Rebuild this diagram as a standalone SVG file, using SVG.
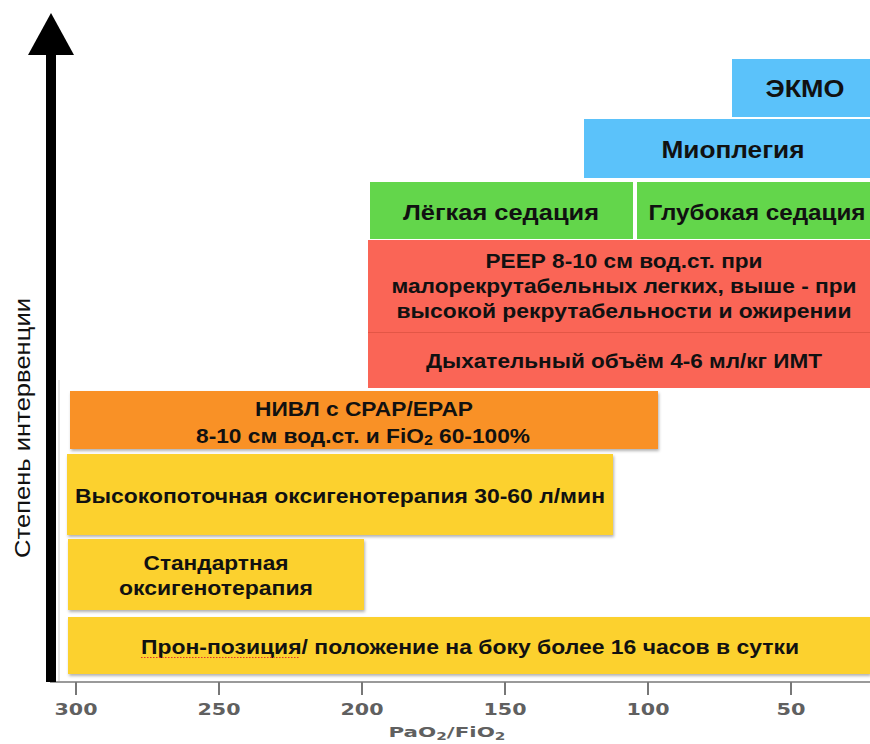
<svg xmlns="http://www.w3.org/2000/svg" width="870" height="744" viewBox="0 0 870 744">
<defs>
<style>
.t{font-family:"Liberation Sans",Arial,sans-serif;font-weight:bold;fill:#111;text-anchor:middle}
.blue{fill:#5BC2FA}
.green{fill:#63D64B}
.red{fill:#FA6556}
.orange{fill:#F99128}
.yellow{fill:#FCD12E}
.tick{stroke:#777;stroke-width:2}
.tl{font-family:"DejaVu Sans",Verdana,sans-serif;font-weight:bold;fill:#606060;font-size:16px;text-anchor:middle}
</style>
<filter id="sh" x="-5%" y="-10%" width="110%" height="130%">
<feDropShadow dx="1" dy="2" stdDeviation="1.5" flood-color="#000" flood-opacity="0.3"/>
</filter>
</defs>
<rect width="870" height="744" fill="#fff"/>

<g id="connectors">
<line x1="59" y1="380" x2="59" y2="682" stroke="#ddd" stroke-width="1.5"/>
<line x1="50" y1="682" x2="870" y2="682" stroke="#9a9a9a" stroke-width="2"/>
<line class="tick" x1="76" y1="682" x2="76" y2="695"/>
<line class="tick" x1="219" y1="682" x2="219" y2="695"/>
<line class="tick" x1="362" y1="682" x2="362" y2="695"/>
<line class="tick" x1="505" y1="682" x2="505" y2="695"/>
<line class="tick" x1="648" y1="682" x2="648" y2="695"/>
<line class="tick" x1="791" y1="682" x2="791" y2="695"/>
<rect x="46" y="50" width="10" height="632" fill="#000"/>
<polygon points="51,13 28,55 74,55" fill="#000"/>
</g>

<g id="axis-labels">
<text class="tl" x="76" y="715" textLength="43" lengthAdjust="spacingAndGlyphs">300</text>
<text class="tl" x="219" y="715" textLength="43" lengthAdjust="spacingAndGlyphs">250</text>
<text class="tl" x="362" y="715" textLength="43" lengthAdjust="spacingAndGlyphs">200</text>
<text class="tl" x="505" y="715" textLength="43" lengthAdjust="spacingAndGlyphs">150</text>
<text class="tl" x="648" y="715" textLength="43" lengthAdjust="spacingAndGlyphs">100</text>
<text class="tl" x="791" y="715" textLength="29" lengthAdjust="spacingAndGlyphs">50</text>
<text class="tl" x="447" y="737" style="font-size:14px" textLength="117" lengthAdjust="spacingAndGlyphs">PaO<tspan font-size="10" dy="3">2</tspan><tspan dy="-3">/FiO</tspan><tspan font-size="10" dy="3">2</tspan></text>
<text transform="translate(30,428) rotate(-90)" style="font-family:'Liberation Sans',Arial,sans-serif;font-size:22px;fill:#111;text-anchor:middle" textLength="260" lengthAdjust="spacingAndGlyphs">Степень интервенции</text>
</g>

<g id="ecmo">
<rect class="blue" x="732" y="59" width="138" height="58"/>
<text class="t" x="805" y="97" font-size="23" textLength="79" lengthAdjust="spacingAndGlyphs">ЭКМО</text>
</g>

<g id="myoplegia">
<rect class="blue" x="584" y="119" width="286" height="59"/>
<text class="t" x="733" y="158" font-size="23" textLength="143" lengthAdjust="spacingAndGlyphs">Миоплегия</text>
</g>

<g id="light-sedation">
<rect class="green" x="370" y="182" width="263" height="57"/>
<text class="t" x="501" y="220" font-size="22" textLength="196" lengthAdjust="spacingAndGlyphs">Лёгкая седация</text>
</g>

<g id="deep-sedation">
<rect class="green" x="637" y="182" width="233" height="57"/>
<text class="t" x="757" y="220" font-size="22" textLength="217" lengthAdjust="spacingAndGlyphs">Глубокая седация</text>
</g>

<g id="peep">
<rect class="red" x="368" y="240" width="502" height="92"/>
<text class="t" x="624" y="268" font-size="21" textLength="277" lengthAdjust="spacingAndGlyphs">РЕЕР 8-10 см вод.ст. при</text>
<text class="t" x="624" y="293" font-size="21" textLength="465" lengthAdjust="spacingAndGlyphs">малорекрутабельных легких, выше - при</text>
<text class="t" x="624" y="318" font-size="21" textLength="455" lengthAdjust="spacingAndGlyphs">высокой рекрутабельности и ожирении</text>
</g>

<g id="tidal-volume">
<rect class="red" x="368" y="332" width="502" height="56"/>
<line x1="368" y1="332.5" x2="870" y2="332.5" stroke="#E35646" stroke-width="1"/>
<text class="t" x="624" y="368" font-size="21" textLength="396" lengthAdjust="spacingAndGlyphs">Дыхательный объём 4-6 мл/кг ИМТ</text>
</g>

<g id="niv">
<rect class="orange" x="70" y="391" width="588" height="58" filter="url(#sh)"/>
<text class="t" x="364" y="416" font-size="20" textLength="218" lengthAdjust="spacingAndGlyphs">НИВЛ с CPAP/EPAP</text>
<text class="t" x="363" y="443" font-size="20" textLength="334" lengthAdjust="spacingAndGlyphs">8-10 см вод.ст. и FiO<tspan font-size="14" dy="2">2</tspan><tspan dy="-2"> 60-100%</tspan></text>
</g>

<g id="hfno">
<rect class="yellow" x="67" y="454" width="546" height="81" filter="url(#sh)"/>
<text class="t" x="340" y="503" font-size="21" textLength="530" lengthAdjust="spacingAndGlyphs">Высокопоточная оксигенотерапия 30-60 л/мин</text>
</g>

<g id="standard-o2">
<rect class="yellow" x="68" y="539" width="296" height="71" filter="url(#sh)"/>
<text class="t" x="216" y="570" font-size="20" textLength="145" lengthAdjust="spacingAndGlyphs">Стандартная</text>
<text class="t" x="216" y="595" font-size="20" textLength="194" lengthAdjust="spacingAndGlyphs">оксигенотерапия</text>
</g>

<g id="prone">
<rect class="yellow" x="68" y="617" width="802" height="57" filter="url(#sh)"/>
<text class="t" x="470" y="654" font-size="20" textLength="658" lengthAdjust="spacingAndGlyphs">Прон-позиция/ положение на боку более 16 часов в сутки</text>
<line x1="141" y1="657.5" x2="300" y2="657.5" stroke="#E03030" stroke-width="1" stroke-dasharray="1.5,1.5"/>
</g>
</svg>
